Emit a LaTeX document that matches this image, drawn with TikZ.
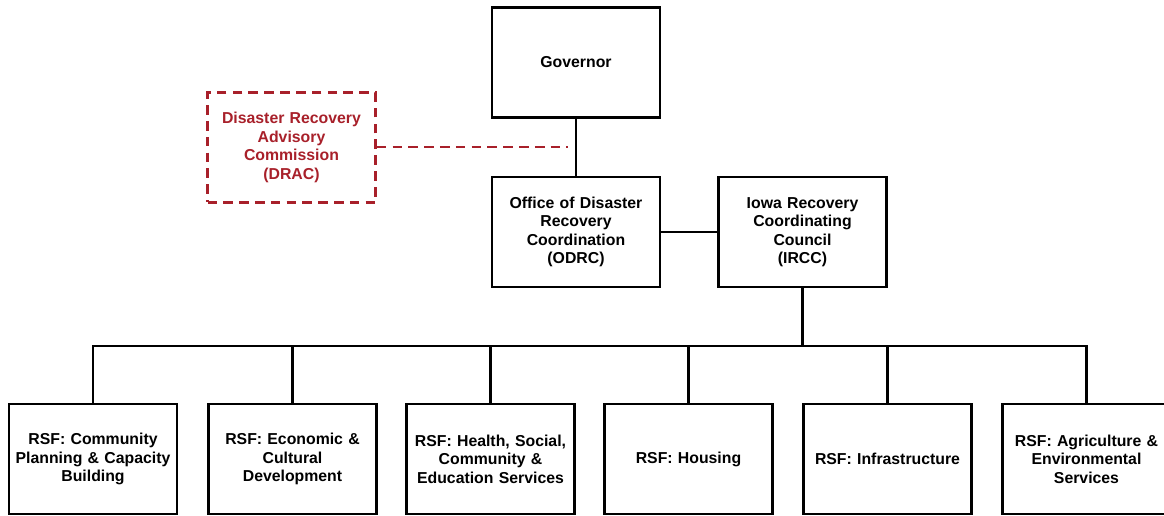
\documentclass[tikz,border=0pt]{standalone}
\usepackage{fontspec}
\setmainfont{Liberation Sans}
\usetikzlibrary{positioning}
\definecolor{dracred}{RGB}{168,32,42}
\tikzset{
  orgbox/.style={draw=black, line width=1.2pt, minimum width=3.36cm, minimum height=2.2cm,
    inner sep=2pt, align=center, text width=3.1cm,
    font=\bfseries\fontsize{9}{10.5}\selectfont},
  advbox/.style={orgbox, draw=dracred, text=dracred, line width=1.4pt, dash pattern=on 5.5pt off 3.5pt},
  link/.style={line width=1.3pt},
  advlink/.style={line width=1.5pt, draw=dracred, dash pattern=on 5.5pt off 3.5pt}
}
\begin{document}
\begin{tikzpicture}[x=0.02cm, y=-0.02cm]
	%%%%% frame %%%%%
	\useasboundingbox (0,0) rectangle (1164,516);
	
	%%%%% top levels %%%%%
	\node[orgbox] (gov) at (576, 62.5) {Governor};
	\node[advbox] (drac) at (291.5, 147.5) {Disaster Recovery\\Advisory\\Commission\\(DRAC)};
	\node[orgbox] (odrc) at (576, 232) {Office of Disaster\\Recovery\\Coordination\\(ODRC)};
	\node[orgbox] (ircc) at (802.5, 232) {Iowa Recovery\\Coordinating\\Council\\(IRCC)};
	
	%%%%% recovery support functions %%%%%
	\node[orgbox] (rsf1) at (93, 459) {RSF: Community\\Planning \& Capacity\\Building};
	\node[orgbox] (rsf2) at (292.5, 459) {RSF: Economic \&\\Cultural\\Development};
	\node[orgbox] (rsf3) at (490.5, 459) {RSF: Health, Social,\\Community \&\\Education Services};
	\node[orgbox] (rsf4) at (688.5, 459) {RSF: Housing};
	\node[orgbox] (rsf5) at (887.5, 459) {RSF: Infrastructure};
	\node[orgbox] (rsf6) at (1086.5, 459) {RSF: Agriculture \&\\Environmental\\Services};
	
	%%%%% connectors %%%%%
	\coordinate (dracend) at (568, 147);
	\coordinate (bus) at (93, 346);
	
	\draw[link] (gov.south) -- (odrc.north);
	\draw[advlink] (drac.east |- dracend) -- (dracend);
	\draw[link] (odrc.east) -- (ircc.west);
	\draw[link] (ircc.south) -- (ircc.south |- bus);
	\draw[link] (rsf1.north) |- (rsf6.north |- bus) -- (rsf6.north);
	\foreach \i in {2,...,5}
		\draw[link] (rsf\i.north) -- (rsf\i.north |- bus);
	
\end{tikzpicture}
\end{document}
